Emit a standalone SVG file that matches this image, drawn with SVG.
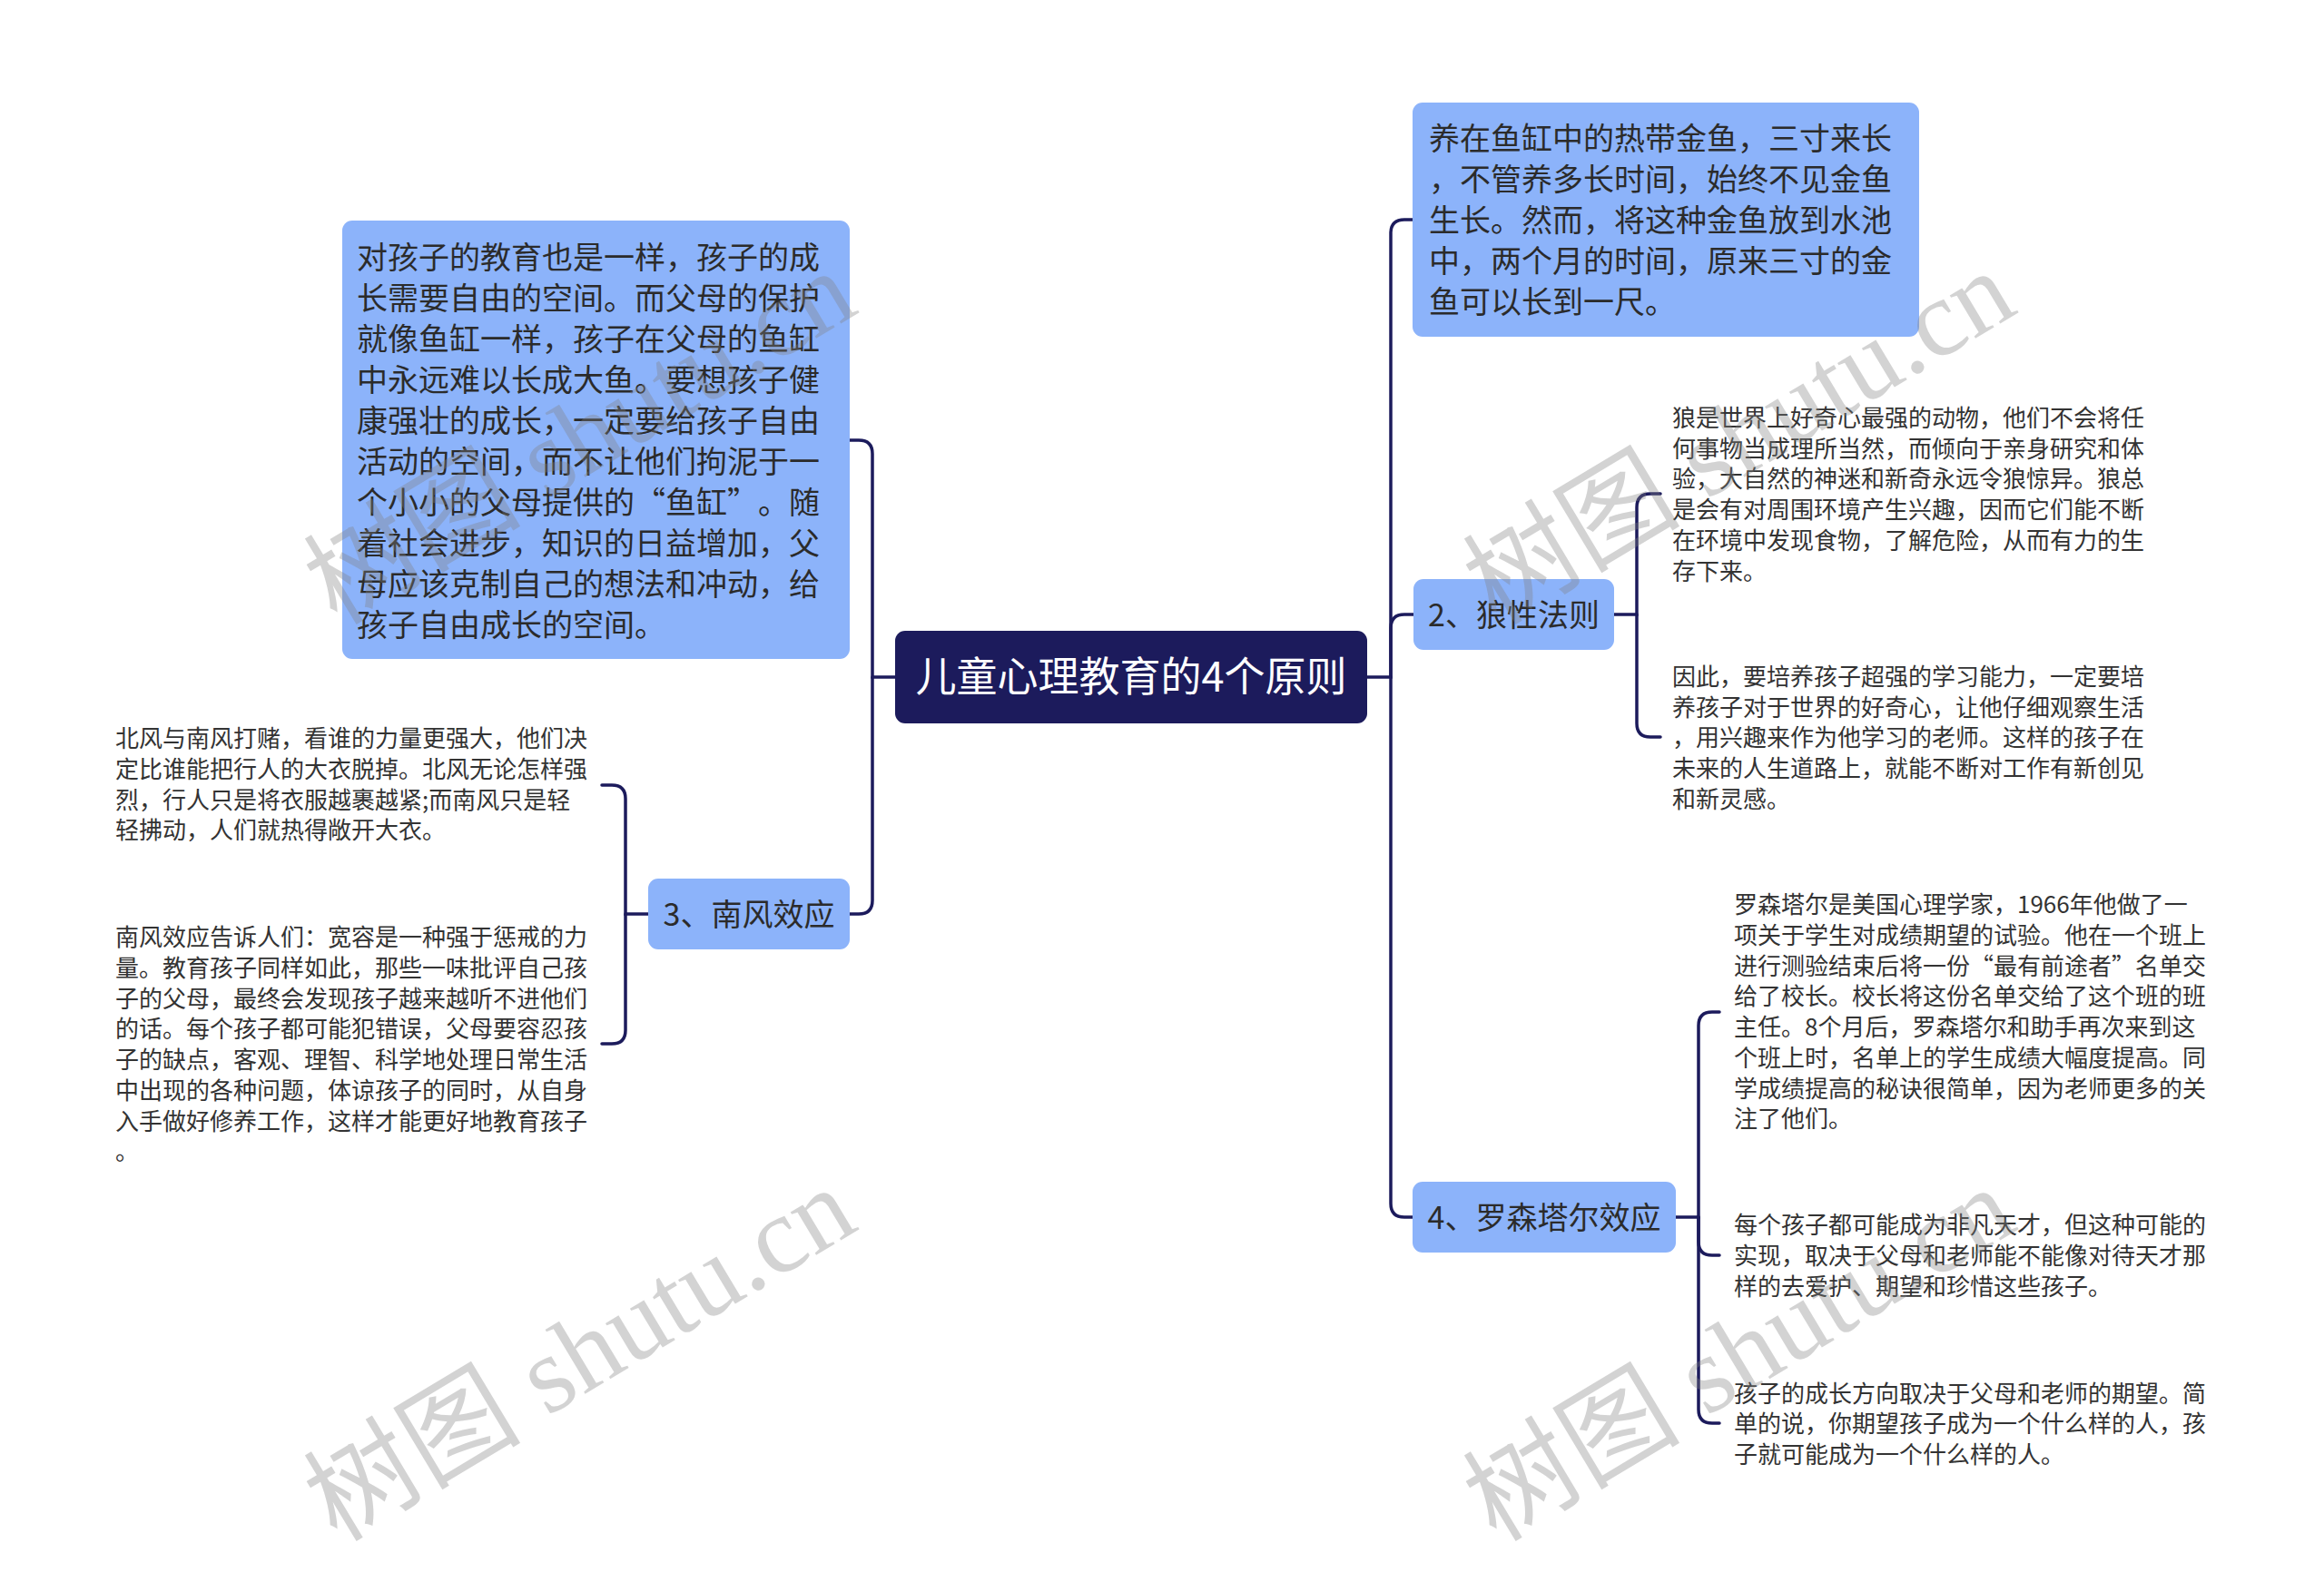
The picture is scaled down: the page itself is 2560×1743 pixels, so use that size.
<svg xmlns="http://www.w3.org/2000/svg" width="2560" height="1743" viewBox="0 0 2560 1743">
<style>
.box{fill:#8cb3fa;}
.root{fill:#1c1b5c;}
.t34{font-family:"Noto Sans CJK SC","Liberation Sans",sans-serif;font-size:34px;fill:#2b2b2b;}
.t26{font-family:"Noto Sans CJK SC","Liberation Sans",sans-serif;font-size:26px;fill:#333333;}
.troot{font-family:"Noto Sans CJK SC","Liberation Sans",sans-serif;font-size:45px;fill:#ffffff;}
.conn{fill:none;stroke:#1c1b5c;stroke-width:3.5;stroke-linecap:round;}
.wm{font-family:"Liberation Serif","Noto Sans CJK SC",serif;font-size:120px;fill:#808080;fill-opacity:0.35;}
</style>
<rect width="2560" height="1743" fill="#ffffff"/>
<g id="connectors">
<path class="conn" d="M1506,746 H1532 V257 Q1532,242 1547,242 H1556"/>
<path class="conn" d="M1532,746 V692 Q1532,677 1547,677 H1557"/>
<path class="conn" d="M1532,746 V1326 Q1532,1341 1547,1341 H1556"/>
<path class="conn" d="M986,746 H961 V500 Q961,485 946,485 H936"/>
<path class="conn" d="M961,746 V992 Q961,1007 946,1007 H936"/>
<path class="conn" d="M1778,677 H1803 V559 Q1803,544 1818,544 H1829"/>
<path class="conn" d="M1803,677 V797 Q1803,812 1818,812 H1829"/>
<path class="conn" d="M714,1007 H689 V880 Q689,865 674,865 H663"/>
<path class="conn" d="M689,1007 V1135 Q689,1150 674,1150 H663"/>
<path class="conn" d="M1846,1341 H1871 V1130 Q1871,1115 1886,1115 H1894"/>
<path class="conn" d="M1871,1341 V1368 Q1871,1383 1886,1383 H1894"/>
<path class="conn" d="M1871,1341 V1553 Q1871,1568 1886,1568 H1894"/>
</g>
<g id="root">
<rect class="root" x="986" y="695" width="520" height="102" rx="11"/>
<text class="troot" x="1246" y="762" text-anchor="middle">儿童心理教育的4个原则</text>
</g>
<g id="node-left-top">
<rect class="box" x="377" y="243" width="559" height="483" rx="11"/>
<text class="t34">
<tspan x="393" y="295.5">对孩子的教育也是一样，孩子的成</tspan>
<tspan x="393" y="340.5">长需要自由的空间。而父母的保护</tspan>
<tspan x="393" y="385.5">就像鱼缸一样，孩子在父母的鱼缸</tspan>
<tspan x="393" y="430.5">中永远难以长成大鱼。要想孩子健</tspan>
<tspan x="393" y="475.5">康强壮的成长，一定要给孩子自由</tspan>
<tspan x="393" y="520.5">活动的空间，而不让他们拘泥于一</tspan>
<tspan x="393" y="565.5">个小小的父母提供的</tspan><tspan x="733" y="565.5" text-anchor="end">“</tspan><tspan x="733" y="565.5">鱼缸</tspan><tspan x="801" y="565.5">”</tspan><tspan x="835" y="565.5">。随</tspan>
<tspan x="393" y="610.5">着社会进步，知识的日益增加，父</tspan>
<tspan x="393" y="655.5">母应该克制自己的想法和冲动，给</tspan>
<tspan x="393" y="700.5">孩子自由成长的空间。</tspan>
</text>
</g>
<g id="node-right-top">
<rect class="box" x="1556" y="113" width="558" height="258" rx="11"/>
<text class="t34">
<tspan x="1574" y="165">养在鱼缸中的热带金鱼，三寸来长</tspan>
<tspan x="1574" y="210">，不管养多长时间，始终不见金鱼</tspan>
<tspan x="1574" y="255">生长。然而，将这种金鱼放到水池</tspan>
<tspan x="1574" y="300">中，两个月的时间，原来三寸的金</tspan>
<tspan x="1574" y="345">鱼可以长到一尺。</tspan>
</text>
</g>
<g id="node-wolf">
<rect class="box" x="1557" y="638" width="221" height="78" rx="11"/>
<text class="t34" x="1667.5" y="690" text-anchor="middle">2、狼性法则</text>
</g>
<g id="node-wolf-1">
<text class="t26">
<tspan x="1842" y="470">狼是世界上好奇心最强的动物，他们不会将任</tspan>
<tspan x="1842" y="504">何事物当成理所当然，而倾向于亲身研究和体</tspan>
<tspan x="1842" y="537">验，大自然的神迷和新奇永远令狼惊异。狼总</tspan>
<tspan x="1842" y="571">是会有对周围环境产生兴趣，因而它们能不断</tspan>
<tspan x="1842" y="605">在环境中发现食物，了解危险，从而有力的生</tspan>
<tspan x="1842" y="639">存下来。</tspan>
</text>
</g>
<g id="node-wolf-2">
<text class="t26">
<tspan x="1842" y="755">因此，要培养孩子超强的学习能力，一定要培</tspan>
<tspan x="1842" y="789">养孩子对于世界的好奇心，让他仔细观察生活</tspan>
<tspan x="1842" y="822">，用兴趣来作为他学习的老师。这样的孩子在</tspan>
<tspan x="1842" y="856">未来的人生道路上，就能不断对工作有新创见</tspan>
<tspan x="1842" y="890">和新灵感。</tspan>
</text>
</g>
<g id="node-south">
<rect class="box" x="714" y="968" width="222" height="78" rx="11"/>
<text class="t34" x="825" y="1020" text-anchor="middle">3、南风效应</text>
</g>
<g id="node-south-1">
<text class="t26">
<tspan x="127" y="823">北风与南风打赌，看谁的力量更强大，他们决</tspan>
<tspan x="127" y="857">定比谁能把行人的大衣脱掉。北风无论怎样强</tspan>
<tspan x="127" y="891">烈，行人只是将衣服越裹越紧;而南风只是轻</tspan>
<tspan x="127" y="924">轻拂动，人们就热得敞开大衣。</tspan>
</text>
</g>
<g id="node-south-2">
<text class="t26">
<tspan x="127" y="1042">南风效应告诉人们：宽容是一种强于惩戒的力</tspan>
<tspan x="127" y="1076">量。教育孩子同样如此，那些一味批评自己孩</tspan>
<tspan x="127" y="1110">子的父母，最终会发现孩子越来越听不进他们</tspan>
<tspan x="127" y="1143">的话。每个孩子都可能犯错误，父母要容忍孩</tspan>
<tspan x="127" y="1177">子的缺点，客观、理智、科学地处理日常生活</tspan>
<tspan x="127" y="1211">中出现的各种问题，体谅孩子的同时，从自身</tspan>
<tspan x="127" y="1245">入手做好修养工作，这样才能更好地教育孩子</tspan>
<tspan x="127" y="1278">。</tspan>
</text>
</g>
<g id="node-rosenthal">
<rect class="box" x="1556" y="1302" width="290" height="78" rx="11"/>
<text class="t34" x="1701" y="1354" text-anchor="middle">4、罗森塔尔效应</text>
</g>
<g id="node-rosenthal-1">
<text class="t26">
<tspan x="1910" y="1006">罗森塔尔是美国心理学家，1966年他做了一</tspan>
<tspan x="1910" y="1040">项关于学生对成绩期望的试验。他在一个班上</tspan>
<tspan x="1910" y="1074">进行测验结束后将一份</tspan><tspan x="2196" y="1074" text-anchor="end">“</tspan><tspan x="2196" y="1074">最有前途者</tspan><tspan x="2326" y="1074">”</tspan><tspan x="2352" y="1074">名单交</tspan>
<tspan x="1910" y="1107">给了校长。校长将这份名单交给了这个班的班</tspan>
<tspan x="1910" y="1141">主任。8个月后，罗森塔尔和助手再次来到这</tspan>
<tspan x="1910" y="1175">个班上时，名单上的学生成绩大幅度提高。同</tspan>
<tspan x="1910" y="1209">学成绩提高的秘诀很简单，因为老师更多的关</tspan>
<tspan x="1910" y="1242">注了他们。</tspan>
</text>
</g>
<g id="node-rosenthal-2">
<text class="t26">
<tspan x="1910" y="1359">每个孩子都可能成为非凡天才，但这种可能的</tspan>
<tspan x="1910" y="1393">实现，取决于父母和老师能不能像对待天才那</tspan>
<tspan x="1910" y="1427">样的去爱护、期望和珍惜这些孩子。</tspan>
</text>
</g>
<g id="node-rosenthal-3">
<text class="t26">
<tspan x="1910" y="1545">孩子的成长方向取决于父母和老师的期望。简</tspan>
<tspan x="1910" y="1578">单的说，你期望孩子成为一个什么样的人，孩</tspan>
<tspan x="1910" y="1612">子就可能成为一个什么样的人。</tspan>
</text>
</g>
<g id="watermarks">
<text class="wm" transform="translate(371,690) rotate(-31)">树图 shutu.cn</text>
<text class="wm" transform="translate(1648,690) rotate(-31)">树图 shutu.cn</text>
<text class="wm" transform="translate(371,1700) rotate(-31)">树图 shutu.cn</text>
<text class="wm" transform="translate(1648,1700) rotate(-31)">树图 shutu.cn</text>
</g>
</svg>
